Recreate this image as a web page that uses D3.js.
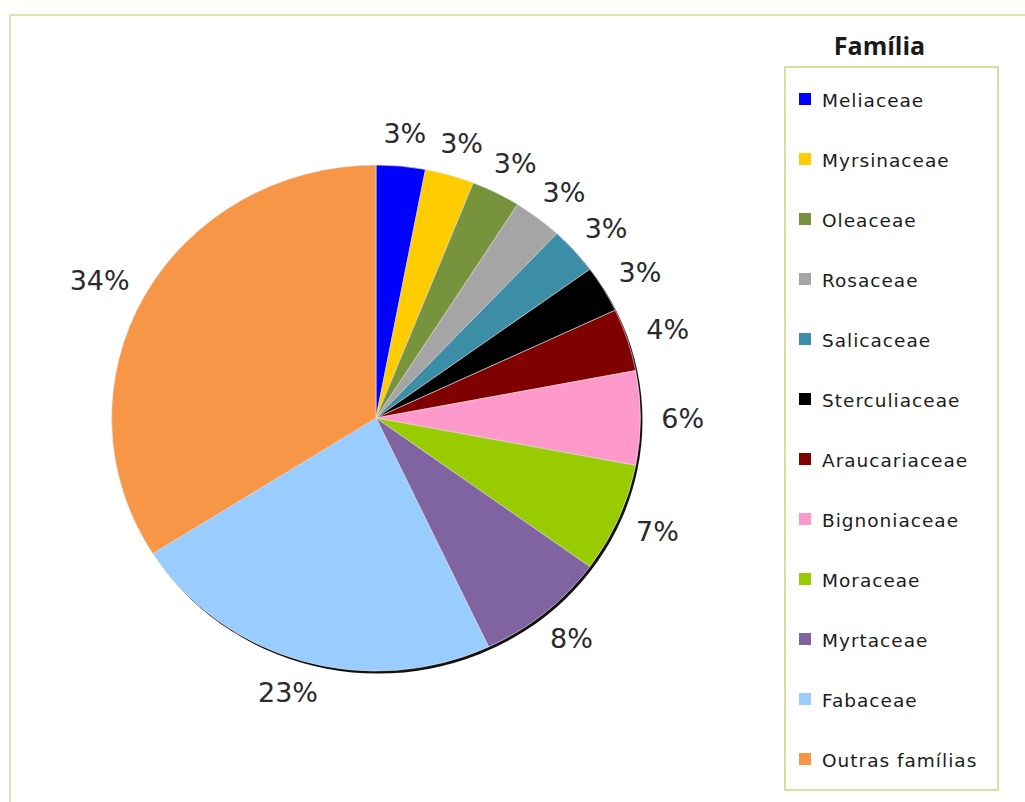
<!DOCTYPE html>
<html>
<head>
<meta charset="utf-8">
<script src="https://cdn.jsdelivr.net/npm/d3@7"></script>
<style>
  body { margin:0; background:#fff; }
  .pct { font-family:"DejaVu Sans", sans-serif; font-size:27px; fill:#2b2b2b; }
  .leg { font-family:"DejaVu Sans", sans-serif; font-size:18.5px; fill:#1c1c1c; letter-spacing:1px; }
  .title { font-family:"Open Sans", sans-serif; font-weight:bold; font-size:25px; fill:#1a1a1a; }
</style>
</head>
<body>
<div id="chart"></div>
<script>
let families = ["Meliaceae","Myrsinaceae","Oleaceae","Rosaceae","Salicaceae","Sterculiaceae",
                "Araucariaceae","Bignoniaceae","Moraceae","Myrtaceae","Fabaceae","Outras famílias"]
let shares = [3,3,3,3,3,3,4,6,7,8,23,34]
let colors = ["#0000ff","#ffcc00","#77933c","#a5a5a5","#3b8ea5","#000000",
              "#800000","#ff99cc","#99cc00","#8064a2","#99ccff","#f79646"]
let legendTitle = "Família"

function render(){
  let width = 1025,
      height = 802,
      cx = 376, cy = 418,
      radius = 253,
      stretch = 1.045;

  let data = families.map((f,i) => ({ name:f, value:shares[i], color:colors[i] }))

  let svg = d3.select("#chart").append("svg").attr("width",width).attr("height",height)

  // frame lines (top + left only)
  svg.append("line").attr("x1",10).attr("x2",width).attr("y1",15).attr("y2",15)
     .attr("stroke","#dce7ae").attr("stroke-width",2)
  svg.append("line").attr("x1",10).attr("x2",10).attr("y1",15).attr("y2",height)
     .attr("stroke","#dce7ae").attr("stroke-width",2)

  let pie = d3.pie().value(d => d.value).sort(null)
  let arcs = pie(data)
  let arc = d3.arc().innerRadius(0).outerRadius(radius)

  let g = svg.append("g").attr("transform",`translate(${cx},${cy}) scale(${stretch},1)`)

  // dark rim on the lower right
  g.append("circle").attr("cx",2).attr("cy",2.5).attr("r",radius).attr("fill","#111")

  g.selectAll("path.slice").data(arcs).enter().append("path")
    .attr("class","slice")
    .attr("d",arc)
    .attr("fill",d => d.data.color)
    .attr("stroke","#e8e8e8")
    .attr("stroke-width",0.6)

  // percentage labels just outside the rim
  let labelArc = d3.arc().innerRadius(radius + 20).outerRadius(radius + 20)
  svg.selectAll("text.pct").data(arcs).enter().append("text")
    .attr("class","pct")
    .attr("text-anchor","middle")
    .attr("dominant-baseline","central")
    .text(d => d.data.value + "%")
    .each(function(d){
      let [x,y] = labelArc.centroid(d)
      let a = (d.startAngle + d.endAngle)/2
      let w = this.getComputedTextLength()
      x = x*stretch + Math.sin(a)*w/2
      y = y - Math.cos(a)*13
      d3.select(this).attr("x",cx + x).attr("y",cy + y)
    })

  // legend
  let lx = 785, ly = 67, lw = 213, lh = 723
  svg.append("text").attr("class","title").attr("x",lx + lw/2 - 12).attr("y",55)
     .attr("text-anchor","middle").text(legendTitle)
  svg.append("rect").attr("x",lx).attr("y",ly).attr("width",lw).attr("height",lh)
     .attr("fill","#fff").attr("stroke","#d5e29f").attr("stroke-width",2)

  let yLeg = d3.scaleLinear().domain([0,families.length - 1]).range([107,767])
  let items = svg.selectAll("g.item").data(data).enter().append("g")
     .attr("class","item")
     .attr("transform",(d,i) => `translate(${lx},${yLeg(i)})`)
  items.append("rect").attr("x",14).attr("y",-14).attr("width",12).attr("height",12)
     .attr("fill",d => d.color)
  items.append("text").attr("class","leg").attr("x",37).attr("y",0).text(d => d.name)
}

render()
</script>
</body>
</html>
